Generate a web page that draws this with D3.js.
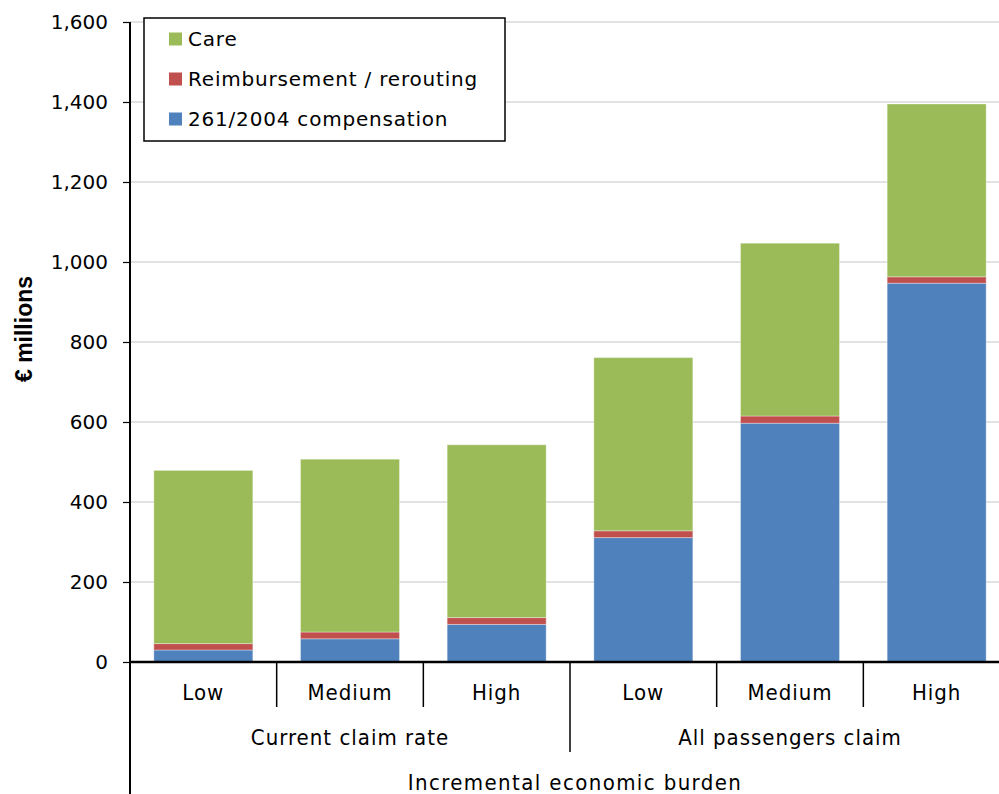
<!DOCTYPE html>
<html>
<head>
<meta charset="utf-8">
<script src="https://cdn.jsdelivr.net/npm/d3@7"></script>
<style>
  html, body { margin: 0; padding: 0; background: #fff; }
  svg { display: block; }
</style>
</head>
<body>
<svg id="chart" width="999" height="794"></svg>
<script>
// Scenario categories (inner level) and their groups (outer level)
const scenarios = ["Low", "Medium", "High", "Low", "Medium", "High"];
const groups = ["Current claim rate", "All passengers claim"];
const groupOf = [0, 0, 0, 1, 1, 1];
const outerLabel = "Incremental economic burden";

// Stacked series, € millions (bottom to top)
const compensation = [30, 58, 94, 311, 597, 947];
const reimbursement = [16, 17, 17, 17, 18, 16];
const care = [433, 432, 432, 433, 432, 432];

const seriesNames = ["261/2004 compensation", "Reimbursement / rerouting", "Care"];
const seriesColors = ["#4F81BD", "#C0504D", "#9BBB59"];
const yTicks = [0, 200, 400, 600, 800, 1000, 1200, 1400, 1600];
const yTitle = "€ millions";

const svg = d3.select("#chart");
const plotLeft = 130, plotRight = 1010, plotTop = 22, plotBottom = 662;

const idx = d3.range(scenarios.length);
const x = d3.scaleBand().domain(idx).range([plotLeft, plotRight])
  .paddingInner(0.325).paddingOuter(0.1625);
const step = x.step();
const y = d3.scaleLinear().domain([0, 1600]).range([plotBottom, plotTop]);

// Gridlines
svg.append("g").selectAll("line").data(yTicks.filter(d => d > 0)).join("line")
  .attr("x1", plotLeft).attr("x2", 999)
  .attr("y1", d => y(d)).attr("y2", d => y(d))
  .attr("stroke", "#d9d9d9").attr("stroke-width", 1.5);

// Stacked bars
const rows = idx.map(i => ({ i, c0: compensation[i], c1: reimbursement[i], c2: care[i] }));
const stack = d3.stack().keys(["c0", "c1", "c2"]);
const layers = stack(rows);
svg.append("g").selectAll("g").data(layers).join("g")
  .attr("fill", (d, k) => seriesColors[k])
  .selectAll("rect").data(d => d).join("rect")
  .attr("x", d => x(d.data.i))
  .attr("width", x.bandwidth())
  .attr("y", d => y(d[1]))
  .attr("height", d => y(d[0]) - y(d[1]))
  .attr("stroke", "rgba(255,255,255,0.35)")
  .attr("stroke-width", 1);

// Y axis
const yAxis = d3.axisLeft(y).tickValues(yTicks).tickSize(7).tickPadding(15)
  .tickFormat(d3.format(","));
const ya = svg.append("g").attr("transform", `translate(${plotLeft},0)`).call(yAxis);
ya.select(".domain").remove();
ya.selectAll("line").attr("stroke", "#000").attr("stroke-width", 1.2);
ya.selectAll("text").attr("font-family", "DejaVu Sans").attr("font-size", 20)
  .attr("fill", "#000");
svg.append("line").attr("x1", plotLeft).attr("x2", plotLeft).attr("y1", plotTop).attr("y2", 794)
  .attr("stroke", "#000").attr("stroke-width", 2);

// X axis baseline
svg.append("line").attr("x1", plotLeft).attr("x2", 999).attr("y1", plotBottom).attr("y2", plotBottom)
  .attr("stroke", "#000").attr("stroke-width", 2.5);

// Separators between scenarios and between groups
const sepG = svg.append("g").attr("stroke", "#000").attr("stroke-width", 1.5);
idx.slice(1).forEach(i => {
  const sx = plotLeft + step * i;
  const isGroupEdge = groupOf[i] !== groupOf[i - 1];
  sepG.append("line").attr("x1", sx).attr("x2", sx)
    .attr("y1", plotBottom).attr("y2", isGroupEdge ? 752 : 707);
});

const labelFont = "DejaVu Sans Condensed";
const labelStyle = sel => sel
  .attr("text-anchor", "middle")
  .attr("font-family", labelFont).attr("font-size", 22)
  .attr("letter-spacing", 1);

svg.append("g").selectAll("text").data(idx).join("text")
  .attr("x", i => x(i) + x.bandwidth() / 2)
  .attr("y", 700)
  .call(labelStyle)
  .text(i => scenarios[i]);

svg.append("g").selectAll("text").data(groups).join("text")
  .attr("x", (g, k) => {
    const members = idx.filter(i => groupOf[i] === k);
    return plotLeft + step * (d3.min(members) + d3.max(members) + 1) / 2;
  })
  .attr("y", 745)
  .call(labelStyle)
  .text(d => d);

svg.append("text").attr("x", (plotLeft + plotRight) / 2 + 5).attr("y", 790)
  .call(labelStyle)
  .attr("letter-spacing", 1.4)
  .text(outerLabel);

// Y axis title
svg.append("text")
  .attr("transform", "translate(32,329) rotate(-90)")
  .attr("text-anchor", "middle")
  .attr("font-family", "Liberation Sans")
  .attr("font-weight", "bold").attr("font-size", 23)
  .text(yTitle);

// Legend (top series first)
const legend = svg.append("g");
legend.append("rect").attr("x", 144).attr("y", 18).attr("width", 361).attr("height", 123)
  .attr("fill", "#fff").attr("stroke", "#000").attr("stroke-width", 1.5);
const legendOrder = [2, 1, 0];
legendOrder.forEach((k, r) => {
  const cy = 39 + r * 40;
  legend.append("rect").attr("x", 169).attr("y", cy - 6.5).attr("width", 13).attr("height", 13)
    .attr("fill", seriesColors[k]);
  legend.append("text").attr("x", 188).attr("y", cy + 7)
    .attr("font-family", "DejaVu Sans").attr("font-size", 20)
    .attr("letter-spacing", 0.8)
    .text(seriesNames[k]);
});
</script>
</body>
</html>
